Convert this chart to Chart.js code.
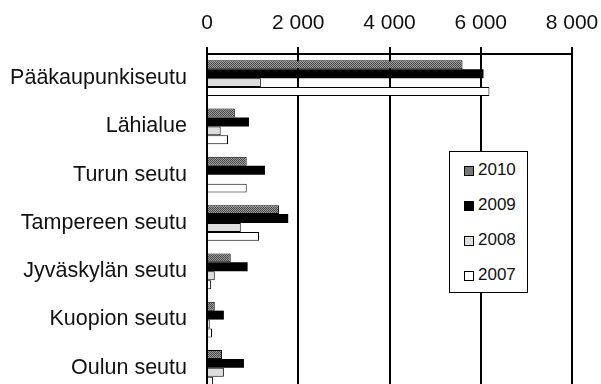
<!DOCTYPE html>
<html>
<head>
<meta charset="utf-8">
<script src="https://cdn.jsdelivr.net/npm/chart.js@4"></script>
<style>
  html, body { margin: 0; padding: 0; background: #fff; overflow: hidden; }
  #wrap { position: relative; width: 601px; height: 392px; }
  #myChart { display: block; }
  #legend {
    position: absolute; left: 449px; top: 151px; width: 77px; height: 140px;
    border: 1px solid #000; background: #fff;
    font-family: "Liberation Sans", Arial, sans-serif; font-size: 17px; color: #111;
  }
  #legend div { height: 35px; line-height: 35px; padding-left: 14px; }
  #legend span.box {
    display: inline-block; width: 10px; height: 10px; border: 1px solid #000;
    margin-right: 4px; vertical-align: -1px; box-sizing: border-box;
  }
</style>
</head>
<body>
<div id="wrap">
  <canvas id="myChart" width="601" height="392"></canvas>
  <div id="legend"></div>
</div>
<script>
// categories (regions) and values per year
const regions = ['Pääkaupunkiseutu', 'Lähialue', 'Turun seutu', 'Tampereen seutu', 'Jyväskylän seutu', 'Kuopion seutu', 'Oulun seutu'];
const years = ['2010', '2009', '2008', '2007'];
const values2010 = [5600, 610, 870, 1580, 520, 170, 330];
const values2009 = [6060, 920, 1270, 1780, 890, 370, 810];
const values2008 = [1180, 300, 0, 740, 170, 60, 370];
const values2007 = [6190, 460, 870, 1140, 90, 110, 130];
const xTicks = [0, 2000, 4000, 6000, 8000];

// dotted grey fill like the scanned 2010 bars
function dotPattern() {
  const c = document.createElement('canvas');
  c.width = 2; c.height = 2;
  const g = c.getContext('2d');
  g.fillStyle = '#9a9a9a'; g.fillRect(0, 0, 2, 2);
  g.fillStyle = '#4a4a4a'; g.fillRect(0, 0, 1, 1); g.fillRect(1, 1, 1, 1);
  return g.createPattern(c, 'repeat');
}

const fills = [dotPattern(), '#000000', '#dddddd', '#ffffff'];
const legendFills = ['#777777', '#000000', '#dddddd', '#ffffff'];
const series = [values2010, values2009, values2008, values2007];

const fontFamily = '"Liberation Sans", Arial, sans-serif';

const ctx = document.getElementById('myChart');
new Chart(ctx, {
  type: 'bar',
  data: {
    labels: regions,
    datasets: years.map((y, i) => ({
      label: y,
      data: series[i],
      backgroundColor: fills[i],
      borderColor: '#000',
      borderWidth: i === 1 ? 0 : 1,
      categoryPercentage: 0.74,
      barPercentage: 1
    }))
  },
  options: {
    indexAxis: 'y',
    responsive: false,
    animation: false,
    layout: { padding: { left: 0, right: 29, top: 0, bottom: 0 } },
    plugins: { legend: { display: false }, tooltip: { enabled: false } },
    scales: {
      x: {
        position: 'top',
        min: 0,
        max: 8000,
        afterBuildTicks: s => { s.ticks = xTicks.map(v => ({ value: v })); },
        afterFit: s => { s.height = 54; s.paddingLeft = 0; s.paddingRight = 0; },
        ticks: {
          color: '#111',
          font: { family: fontFamily, size: 21 },
          padding: 11,
          callback: v => String(v).replace(/\B(?=(\d{3})+(?!\d))/g, ' ')
        },
        grid: { color: '#000', lineWidth: 2, tickLength: 7, tickColor: '#000' },
        border: { color: '#000', width: 2 }
      },
      y: {
        afterFit: s => { s.width = 207; s.paddingTop = 0; s.paddingBottom = 0; },
        ticks: { color: '#111', font: { family: fontFamily, size: 21.5 }, padding: 12 },
        grid: { display: false },
        border: { color: '#000', width: 2 }
      }
    }
  }
});

// legend box inside the plot
const leg = document.getElementById('legend');
years.forEach((y, i) => {
  const row = document.createElement('div');
  const box = document.createElement('span');
  box.className = 'box';
  box.style.background = legendFills[i];
  row.appendChild(box);
  row.appendChild(document.createTextNode(y));
  leg.appendChild(row);
});
</script>
</body>
</html>
